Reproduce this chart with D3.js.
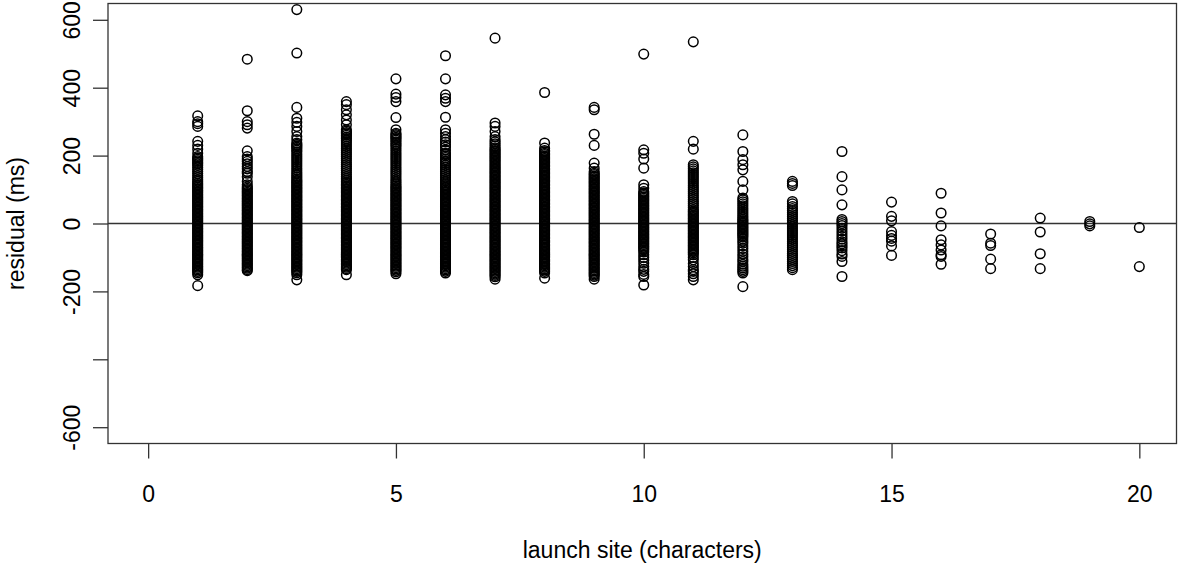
<!DOCTYPE html>
<html lang="en">
<head>
  <meta charset="UTF-8">
  <title>Residual by launch site length</title>
  <script src="https://d3js.org/d3.v7.min.js"></script>
  <style>
    body { margin: 0; background: #fff; }
    svg { display: block; font-family: Arial, "Liberation Sans", sans-serif; }
    .axis text { font-size: 23px; fill: #000; }
    .axis line { stroke: #333; stroke-width: 1.3; }
    .dot { fill: none; stroke: #000; stroke-width: 1.5; }
  </style>
</head>
<body>
  <svg id="chart"></svg>
  <script>
    // launch site length (characters) and residuals (ms)
    const sites = [1, 2, 3, 4, 5, 6, 7, 8, 9, 10, 11, 12, 13, 14, 15, 16, 17, 18, 19, 20];
    const xTicks = [0, 5, 10, 15, 20];
    const yTicks = [-600, -400, -200, 0, 200, 400, 600];
    const yTickLabels = ["-600", "", "-200", "0", "200", "400", "600"];

    const res01 = [317, 300, 294, 286, 242, 230, 219, 207, 197, 193, 189, 185, 180, 176, 171, 165, 159, 153, 147, 141, 135, 129, 124, 119, 115, 111, 107, 103, 99, 95, 91, 87, 83, 79, 75, 71, 67, 63, 59, 55, 51, 47, 43, 39, 35, 31, 27, 23, 19, 15, 11, 7, 3, -1, -5, -9, -13, -17, -21, -25, -29, -33, -37, -41, -45, -49, -53, -57, -61, -65, -69, -73, -77, -81, -85, -89, -93, -97, -101, -105, -109, -113, -117, -121, -125, -129, -133, -137, -141, -145, -151, -183];
    const res02 = [484, 332, 300, 291, 281, 214, 197, 190, 183, 176, 168, 161, 153, 148, 138, 124, 114, 108, 104, 100, 96, 92, 88, 84, 80, 76, 72, 68, 64, 60, 56, 52, 48, 44, 40, 36, 32, 28, 24, 20, 16, 12, 8, 4, 0, -4, -8, -12, -16, -20, -24, -28, -32, -36, -40, -44, -48, -52, -56, -60, -64, -68, -72, -76, -80, -84, -88, -92, -96, -100, -104, -108, -112, -116, -120, -124, -128, -132, -136, -139];
    const res03 = [630, 502, 342, 310, 298, 286, 271, 256, 247, 237, 233, 229, 225, 221, 216, 211, 205, 199, 193, 187, 181, 175, 169, 163, 157, 151, 146, 141, 136, 131, 127, 123, 119, 115, 111, 107, 103, 99, 95, 91, 87, 83, 79, 75, 71, 67, 63, 59, 55, 51, 47, 43, 39, 35, 31, 27, 23, 19, 15, 11, 7, 3, -1, -5, -9, -13, -17, -21, -25, -29, -33, -37, -41, -45, -49, -53, -57, -61, -65, -69, -73, -77, -81, -85, -89, -93, -97, -101, -105, -109, -113, -117, -121, -125, -129, -133, -137, -141, -145, -151, -166];
    const res04 = [359, 350, 335, 320, 305, 291, 276, 272, 268, 264, 260, 255, 250, 245, 240, 234, 228, 222, 216, 210, 204, 198, 192, 186, 180, 174, 168, 162, 156, 150, 144, 138, 133, 128, 123, 119, 115, 111, 107, 103, 99, 95, 91, 87, 83, 79, 75, 71, 67, 63, 59, 55, 51, 47, 43, 39, 35, 31, 27, 23, 19, 15, 11, 7, 3, -1, -5, -9, -13, -17, -21, -25, -29, -33, -37, -41, -45, -49, -53, -57, -61, -65, -69, -73, -77, -81, -85, -89, -93, -97, -101, -105, -109, -113, -117, -121, -125, -129, -133, -136, -151];
    const res05 = [426, 381, 371, 359, 312, 276, 266, 262, 258, 254, 250, 246, 241, 236, 231, 226, 220, 214, 208, 202, 196, 190, 184, 178, 172, 166, 160, 154, 148, 142, 136, 130, 125, 120, 115, 110, 106, 102, 98, 94, 90, 86, 82, 78, 74, 70, 66, 62, 58, 54, 50, 46, 42, 38, 34, 30, 26, 22, 18, 14, 10, 6, 2, -2, -6, -10, -14, -18, -22, -26, -30, -34, -38, -42, -46, -50, -54, -58, -62, -66, -70, -74, -78, -82, -86, -90, -94, -98, -102, -106, -110, -114, -118, -122, -126, -130, -134, -138, -142, -148];
    const res06 = [494, 426, 379, 369, 359, 313, 276, 266, 256, 247, 240, 232, 225, 216, 207, 203, 199, 194, 189, 184, 178, 172, 166, 160, 154, 148, 142, 136, 130, 125, 120, 115, 111, 107, 103, 99, 95, 91, 87, 83, 79, 75, 71, 67, 63, 59, 55, 51, 47, 43, 39, 35, 31, 27, 23, 19, 15, 11, 7, 3, -1, -5, -9, -13, -17, -21, -25, -29, -33, -37, -41, -45, -49, -53, -57, -61, -65, -69, -73, -77, -81, -85, -89, -93, -97, -101, -105, -109, -113, -117, -121, -125, -129, -133, -137, -141, -146];
    const res07 = [546, 296, 286, 271, 256, 247, 241, 235, 229, 223, 219, 215, 211, 207, 203, 199, 195, 191, 187, 183, 179, 175, 171, 167, 163, 159, 155, 151, 147, 143, 139, 135, 131, 127, 123, 119, 115, 111, 107, 103, 99, 95, 91, 87, 83, 79, 75, 71, 67, 63, 59, 55, 51, 47, 43, 39, 35, 31, 27, 23, 19, 15, 11, 7, 3, -1, -5, -9, -13, -17, -21, -25, -29, -33, -37, -41, -45, -49, -53, -57, -61, -65, -69, -73, -77, -81, -85, -89, -93, -97, -101, -105, -109, -113, -117, -121, -125, -129, -133, -137, -141, -145, -149, -153, -157, -164];
    const res08 = [386, 237, 222, 215, 211, 207, 203, 199, 195, 191, 187, 183, 179, 175, 171, 167, 163, 159, 155, 151, 147, 143, 139, 135, 131, 127, 123, 119, 115, 111, 107, 103, 99, 95, 91, 87, 83, 79, 75, 71, 67, 63, 59, 55, 51, 47, 43, 39, 35, 31, 27, 23, 19, 15, 11, 7, 3, -1, -5, -9, -13, -17, -21, -25, -29, -33, -37, -41, -45, -49, -53, -57, -61, -65, -69, -73, -77, -81, -85, -89, -93, -97, -101, -105, -109, -113, -117, -121, -125, -129, -133, -137, -141, -146, -161];
    const res09 = [342, 335, 263, 230, 178, 163, 153, 148, 144, 140, 136, 132, 128, 124, 120, 116, 112, 108, 104, 100, 96, 92, 88, 84, 80, 76, 72, 68, 64, 60, 56, 52, 48, 44, 40, 36, 32, 28, 24, 20, 16, 12, 8, 4, 0, -4, -8, -12, -16, -20, -24, -28, -32, -36, -40, -44, -48, -52, -56, -60, -64, -68, -72, -76, -80, -84, -88, -92, -96, -100, -104, -108, -112, -116, -120, -124, -128, -132, -136, -140, -144, -148, -152, -156, -164];
    const res10 = [499, 217, 207, 190, 163, 114, 104, 94, 90, 86, 82, 78, 74, 70, 66, 62, 58, 54, 50, 46, 42, 38, 34, 30, 26, 22, 18, 14, 10, 6, 2, -2, -6, -10, -14, -18, -22, -26, -30, -34, -38, -42, -46, -50, -54, -58, -62, -66, -70, -74, -78, -84, -92, -100, -108, -117, -127, -135, -141, -150, -156, -181];
    const res11 = [535, 242, 219, 173, 167, 161, 155, 149, 143, 137, 131, 125, 119, 113, 107, 101, 95, 89, 83, 77, 71, 65, 59, 53, 47, 41, 37, 33, 29, 25, 21, 17, 13, 9, 5, 1, -3, -7, -11, -15, -19, -23, -27, -31, -35, -39, -43, -47, -51, -55, -59, -63, -67, -71, -75, -79, -83, -87, -92, -100, -107, -118, -127, -136, -141, -148, -156, -166];
    const res12 = [261, 212, 188, 173, 158, 124, 99, 75, 70, 64, 58, 52, 46, 40, 34, 28, 22, 17, 12, 8, 4, 0, -4, -8, -12, -16, -20, -24, -28, -32, -36, -40, -46, -52, -58, -66, -74, -82, -90, -98, -106, -112, -120, -126, -131, -136, -141, -146, -186];
    const res13 = [124, 118, 112, 65, 58, 50, 44, 38, 32, 26, 20, 14, 8, 2, -4, -10, -16, -22, -28, -34, -40, -46, -52, -58, -64, -70, -76, -82, -88, -94, -100, -106, -112, -118, -124, -130, -136];
    const res14 = [212, 138, 99, 55, 12, 6, 0, -6, -14, -22, -30, -38, -46, -54, -60, -66, -72, -80, -90, -97, -112, -156];
    const res15 = [63, 21, 8, -24, -35, -44, -52, -66, -94];
    const res16 = [89, 31, -7, -48, -63, -78, -92, -97, -120];
    const res17 = [-31, -58, -65, -105, -133];
    const res18 = [16, -25, -89, -133];
    const res19 = [6, -1, -7];
    const res20 = [-12, -127];

    const residuals = [res01, res02, res03, res04, res05, res06, res07, res08, res09, res10,
                       res11, res12, res13, res14, res15, res16, res17, res18, res19, res20];

    const points = [];
    sites.forEach((s, i) => residuals[i].forEach(v => points.push({ site: s, value: v })));

    const width = 1178;
    const height = 566;
    const margin = { top: 3.5, right: 1.5, bottom: 122.5, left: 108 };

    const svg = d3.select("#chart")
      .attr("width", width)
      .attr("height", height);

    const x = d3.scaleLinear()
      .domain([-0.81, 20.75])
      .range([margin.left, width - margin.right]);

    const y = d3.scaleLinear()
      .domain([-648, 648])
      .range([height - margin.bottom, margin.top]);

    // x axis (R style: ticks only, labels below)
    const xAxis = svg.append("g")
      .attr("class", "axis")
      .attr("transform", `translate(0,${height - margin.bottom})`)
      .call(d3.axisBottom(x).tickValues(xTicks).tickSize(15).tickSizeOuter(0).tickPadding(27));
    xAxis.select(".domain").remove();

    // y axis with rotated labels
    const yAxis = svg.append("g")
      .attr("class", "axis")
      .attr("transform", `translate(${margin.left},0)`)
      .call(d3.axisLeft(y).tickValues(yTicks).tickSize(15).tickSizeOuter(0)
        .tickFormat((d, i) => yTickLabels[i]));
    yAxis.select(".domain").remove();
    yAxis.selectAll("text")
      .attr("x", null)
      .attr("dy", null)
      .attr("text-anchor", "middle")
      .attr("transform", "translate(-28,0) rotate(-90)");

    // zero line
    svg.append("line")
      .attr("x1", x.range()[0])
      .attr("x2", x.range()[1])
      .attr("y1", y(0))
      .attr("y2", y(0))
      .attr("stroke", "#333")
      .attr("stroke-width", 1.3);

    // points
    svg.append("g")
      .selectAll("circle")
      .data(points)
      .join("circle")
      .attr("class", "dot")
      .attr("cx", d => x(d.site))
      .attr("cy", d => y(d.value))
      .attr("r", 4.8);

    // plot box
    svg.append("rect")
      .attr("x", x.range()[0])
      .attr("y", y.range()[1])
      .attr("width", x.range()[1] - x.range()[0])
      .attr("height", y.range()[0] - y.range()[1])
      .attr("fill", "none")
      .attr("stroke", "#333")
      .attr("stroke-width", 1.3);

    // axis titles
    svg.append("text")
      .attr("x", (x.range()[0] + x.range()[1]) / 2)
      .attr("y", 558)
      .attr("text-anchor", "middle")
      .attr("font-size", 23)
      .text("launch site (characters)");

    svg.append("text")
      .attr("transform", `translate(24,${(y.range()[0] + y.range()[1]) / 2}) rotate(-90)`)
      .attr("text-anchor", "middle")
      .attr("font-size", 23)
      .text("residual (ms)");
  </script>
</body>
</html>
